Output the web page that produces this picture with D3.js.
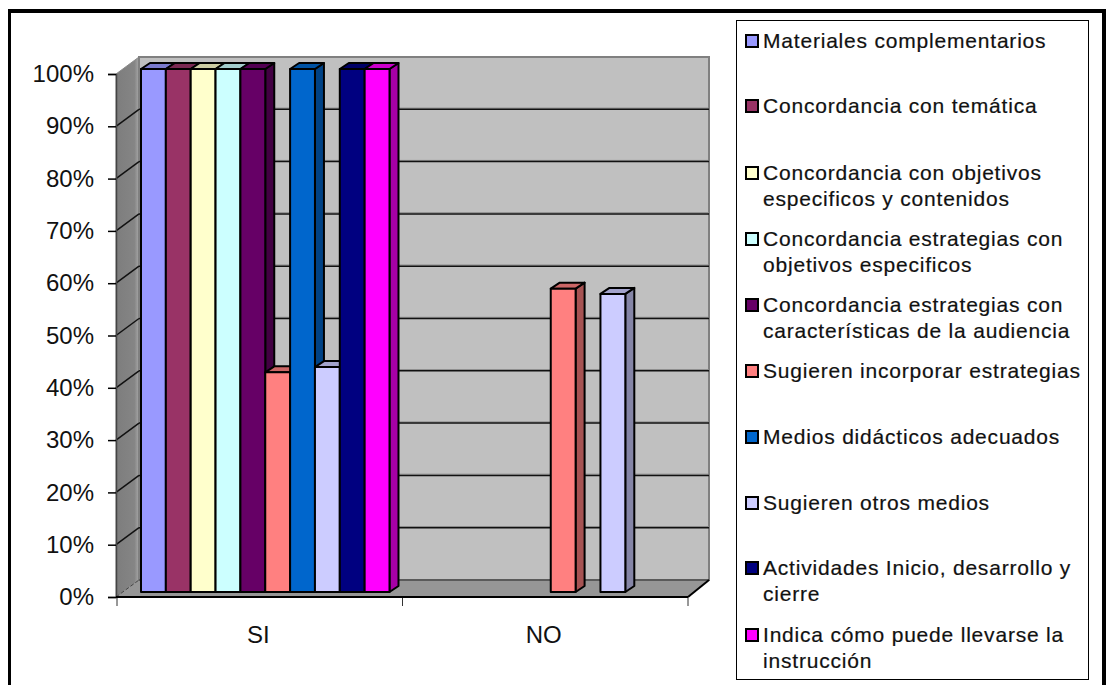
<!DOCTYPE html>
<html><head><meta charset="utf-8">
<script src="https://cdn.jsdelivr.net/npm/d3@7/dist/d3.min.js"></script>
<style>html,body{margin:0;padding:0;background:#fff;overflow:hidden}svg{display:block}text{font-family:"Liberation Sans",Arial,sans-serif;fill:#111}</style>
</head><body><svg id="c" width="1106" height="685"></svg>
<script>
const categories=["SI","NO"];
const seriesNames=["Materiales complementarios","Concordancia con temática","Concordancia con objetivos especificos y contenidos","Concordancia estrategias con objetivos especificos","Concordancia estrategias con características de la audiencia","Sugieren incorporar estrategias","Medios didácticos adecuados","Sugieren otros medios","Actividades Inicio, desarrollo y cierre","Indica cómo puede llevarse la instrucción"];
const legendLines=[["Materiales complementarios"],["Concordancia con temática"],["Concordancia con objetivos","especificos y contenidos"],["Concordancia estrategias con","objetivos especificos"],["Concordancia estrategias con","características de la audiencia"],["Sugieren incorporar estrategias"],["Medios didácticos adecuados"],["Sugieren otros medios"],["Actividades Inicio, desarrollo y","cierre"],["Indica cómo puede llevarse la","instrucción"]];
const colors=["#9999FF","#993366","#FFFFCC","#CCFFFF","#660066","#FF8080","#0066CC","#CCCCFF","#000080","#FF00FF"];
const valuesSI=[100,100,100,100,100,42,100,43,100,100];
const valuesNO=[0,0,0,0,0,58,0,57,0,0];
const yTicks=[0,10,20,30,40,50,60,70,80,90,100];

const svg=d3.select("#c");
const shade=(c,k)=>{const r=d3.rgb(c);return d3.rgb(r.r*k,r.g*k,r.b*k).formatHex();};
const poly=(pts)=>pts.map(p=>p.join(",")).join(" ");

// outer frame
svg.append("rect").attr("x",8).attr("y",9).attr("width",3).attr("height",676).attr("fill","#000");
svg.append("rect").attr("x",8).attr("y",9).attr("width",1098).attr("height",4).attr("fill","#000");
svg.append("rect").attr("x",1102).attr("y",9).attr("width",4).attr("height",676).attr("fill","#000");

const x=d3.scaleBand().domain(categories).range([117,688]);
const inner=d3.scaleBand().domain(seriesNames).range([0,248.5]);
const y=d3.scaleLinear().domain([0,100]).range([597,74]);
const wallDx=23,wallDy=-17,barOff=24,barDy=-5,depthX=9,depthY=-6;
const xL=116,xR=688,xBack=709;

const defs=svg.append("defs");
const g1=defs.append("linearGradient").attr("id","wall").attr("x1",0).attr("x2",1).attr("y1",0).attr("y2",0);
g1.append("stop").attr("offset",0).attr("stop-color","#7d7d7d");
g1.append("stop").attr("offset",0.8).attr("stop-color","#858585");
g1.append("stop").attr("offset",1).attr("stop-color","#a8a8a8");

// left wall, back wall, floor
svg.append("polygon").attr("points",poly([[xL,y(100)],[xL+wallDx,y(100)+wallDy],[xL+wallDx,y(0)+wallDy],[xL,y(0)]])).attr("fill","url(#wall)").attr("stroke","#8a8a8a");
svg.append("rect").attr("x",xL+wallDx).attr("y",y(100)+wallDy).attr("width",xBack-xL-wallDx).attr("height",y(0)-y(100)).attr("fill","#C0C0C0").attr("stroke","#808080").attr("stroke-width",2);
svg.append("polygon").attr("points",poly([[xL,y(0)],[xL+wallDx,y(0)+wallDy],[xBack,y(0)+wallDy],[xR,y(0)]])).attr("fill","#969696");
svg.append("line").attr("x1",xL+wallDx).attr("x2",xBack).attr("y1",y(0)+wallDy).attr("y2",y(0)+wallDy).attr("stroke","#5a5a5a").attr("stroke-width",2);

// gridlines
yTicks.filter(t=>t>0&&t<100).forEach(t=>{
  svg.append("line").attr("x1",xL+wallDx).attr("x2",xBack).attr("y1",y(t)+wallDy-1.2).attr("y2",y(t)+wallDy-1.2).attr("stroke","#8a8a8a").attr("stroke-width",1);
  svg.append("line").attr("x1",xL+wallDx).attr("x2",xBack).attr("y1",y(t)+wallDy).attr("y2",y(t)+wallDy).attr("stroke","#111").attr("stroke-width",1.5);
});
yTicks.filter(t=>t<100).forEach(t=>{
  svg.append("line").attr("x1",xL).attr("x2",xL+wallDx).attr("y1",y(t)).attr("y2",y(t)+wallDy).attr("stroke",t===0?"#444":"#111").attr("stroke-width",t===0?1:1.5).attr("stroke-dasharray",t===0?"4 2":null);
});
svg.append("line").attr("x1",xR).attr("x2",xBack).attr("y1",y(0)).attr("y2",y(0)+wallDy).attr("stroke","#000").attr("stroke-width",2);

// bars
const rows=[["SI",valuesSI],["NO",valuesNO]];
rows.forEach(([cat,vals])=>{
  vals.forEach((v,i)=>{
    if(v===0)return;
    const L=x(cat)+barOff+inner(seriesNames[i]),R=L+inner.bandwidth(),T=y(v)+barDy,B=y(0)+barDy;
    const g=svg.append("g").attr("stroke","#000").attr("stroke-width",2).attr("stroke-linejoin","round");
    g.append("polygon").attr("points",poly([[R,T],[R+depthX,T+depthY],[R+depthX,B+depthY],[R,B]])).attr("fill",shade(colors[i],0.65));
    g.append("polygon").attr("points",poly([[L,T],[L+depthX,T+depthY],[R+depthX,T+depthY],[R,T]])).attr("fill",shade(colors[i],0.8));
    g.append("rect").attr("x",L).attr("y",T).attr("width",R-L).attr("height",B-T).attr("fill",colors[i]);
  });
});

// axes
const yAxis=d3.axisLeft(y).tickValues(yTicks).tickFormat(d=>d+"%").tickSize(8).tickPadding(14);
const ya=svg.append("g").attr("transform",`translate(${xL},0)`).call(yAxis);
ya.select(".domain").attr("stroke","#444").attr("stroke-width",1.5);
ya.selectAll(".tick line").attr("stroke","#000").attr("stroke-width",1.5);
ya.selectAll("text").attr("font-size",24).attr("font-family",'"Liberation Sans",Arial,sans-serif').attr("fill","#111");

const xa=svg.append("g");
[xL+1,x("NO"),xR].forEach(t=>xa.append("line").attr("x1",t).attr("x2",t).attr("y1",y(0)).attr("y2",y(0)+9).attr("stroke","#333").attr("stroke-width",1));
xa.append("line").attr("x1",xL).attr("x2",xR).attr("y1",y(0)).attr("y2",y(0)).attr("stroke","#000").attr("stroke-width",2);
categories.forEach(c=>svg.append("text").attr("x",x(c)+x.bandwidth()/2-1.5).attr("y",643).attr("text-anchor","middle").attr("font-size",24).text(c));

// legend
svg.append("rect").attr("x",736.5).attr("y",20.5).attr("width",352).attr("height",659).attr("fill","#fff").attr("stroke","#000");
const legendY=[41,106,173,239,305,371,437,503,568,635];
legendLines.forEach((lines,i)=>{
  svg.append("rect").attr("x",746).attr("y",legendY[i]-6).attr("width",12).attr("height",12).attr("fill",colors[i]).attr("stroke","#000").attr("stroke-width",2);
  lines.forEach((t,j)=>svg.append("text").attr("x",763).attr("y",legendY[i]+6.5+j*26).attr("font-size",21).attr("letter-spacing",0.8).attr("stroke","#111").attr("stroke-width",0.2).text(t));
});
</script></body></html>
